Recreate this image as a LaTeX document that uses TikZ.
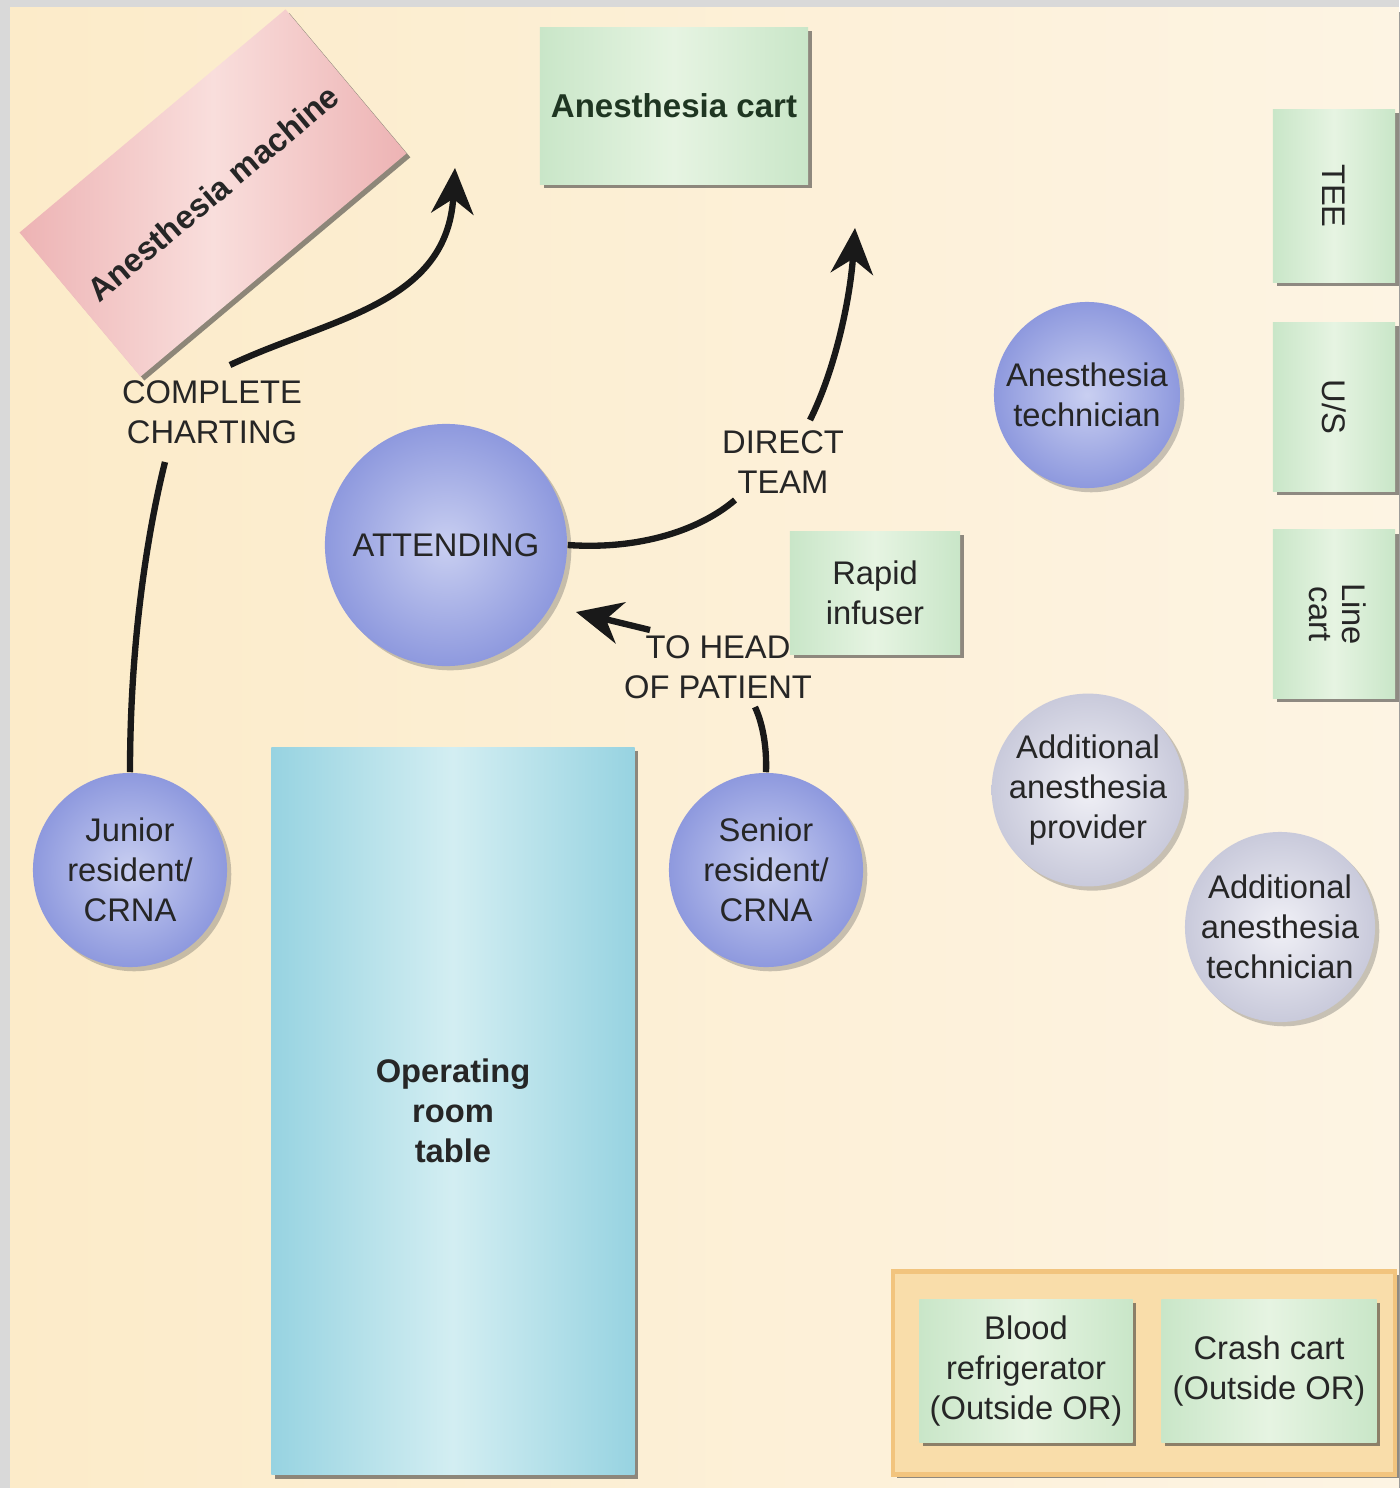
\documentclass[tikz,border=0pt]{standalone}
\usepackage{fontspec}
\setmainfont{Liberation Sans}
\usetikzlibrary{arrows.meta,shadows}
\definecolor{framegray}{HTML}{D9D9D9}
\definecolor{paperL}{HTML}{FCEBC9}
\definecolor{paperR}{HTML}{FDF4E3}
\definecolor{txt}{HTML}{262626}
\definecolor{cartgreen}{HTML}{1F3622}
\definecolor{greenOut}{HTML}{C9E6C8}
\definecolor{greenIn}{HTML}{E6F4E2}
\definecolor{blueOut}{HTML}{8E99DE}
\definecolor{blueIn}{HTML}{C9CFF1}
\definecolor{greyOut}{HTML}{C9CADB}
\definecolor{greyIn}{HTML}{F0F0F6}
\definecolor{pinkOut}{HTML}{EDB3B4}
\definecolor{pinkIn}{HTML}{F9DEDC}
\definecolor{tableSide}{HTML}{97D3E1}
\definecolor{tableMid}{HTML}{D3EEF2}
\definecolor{orangeEdge}{HTML}{F2C47E}
\definecolor{orangeFill}{HTML}{F9DDAA}
\begin{document}
\begin{tikzpicture}[x=0.01cm,y=-0.01cm,
  lbl/.style={font=\fontsize{9.3}{11.4}\selectfont, align=center, text=txt},
  shade/.style={drop shadow={shadow xshift=1.1pt, shadow yshift=-1.1pt, opacity=0.55, fill=black!80}},
  softshade/.style={drop shadow={shadow xshift=1.2pt, shadow yshift=-1.2pt, opacity=0.3, fill=black!70}},
  equip/.style={lbl, shade, inner sep=0pt, rectangle, left color=greenOut, right color=greenOut, middle color=greenIn},
  person/.style={lbl, softshade, circle, inner sep=0pt, shading=radial, inner color=blueIn, outer color=blueOut},
  extra/.style={person, inner color=greyIn, outer color=greyOut},
  flow/.style={line width=1.8pt, draw=black!90},
  flowarrow/.style={flow, -{Stealth[length=13pt,width=12pt]}}
]
% page frame and paper
\useasboundingbox (0,0) rectangle (1399,1488);
\fill[framegray] (0,0) rectangle (1399,1488);
\shade[left color=paperL, right color=paperR] (10,8) rectangle (1399,1488);

% equipment
\node[lbl, shade, rotate=40, minimum width=3.47cm, minimum height=1.88cm, inner sep=0pt,
      left color=pinkOut, right color=pinkOut, middle color=pinkIn, font=\fontsize{9.3}{11.4}\selectfont\bfseries]
      (machine) at (213,193) {Anesthesia machine};
\node[equip, minimum width=2.68cm, minimum height=1.57cm, text=cartgreen, font=\fontsize{9.4}{11.4}\selectfont\bfseries]
      (cart) at (674,106) {Anesthesia cart};
\node[equip, minimum width=1.22cm, minimum height=1.73cm] (tee) at (1334,196) {\rotatebox{-90}{TEE}};
\node[equip, minimum width=1.22cm, minimum height=1.69cm] (us) at (1334,407) {\rotatebox{-90}{U/S}};
\node[equip, minimum width=1.22cm, minimum height=1.68cm] (linecart) at (1334,614)
      {\rotatebox{-90}{\begin{tabular}{@{}c@{}}Line\\[-2pt]cart\end{tabular}}};
\node[equip, minimum width=1.70cm, minimum height=1.23cm] (rapid) at (875,593) {Rapid\\infuser};
\node[lbl, shade, rectangle, inner sep=0pt, minimum width=3.63cm, minimum height=7.27cm,
      left color=tableSide, right color=tableSide, middle color=tableMid,
      font=\fontsize{9.3}{11.4}\selectfont\bfseries] (table) at (453,1111) {Operating\\room\\table};

% items kept outside the room
\node[shade, rectangle, minimum width=5.02cm, minimum height=2.03cm, fill=orangeFill,
      draw=orangeEdge, line width=1.2pt] (outside) at (1144,1373) {};
\node[equip, minimum width=2.13cm, minimum height=1.43cm] (blood) at (1026,1371) {Blood\\refrigerator\\(Outside OR)};
\node[equip, minimum width=2.15cm, minimum height=1.43cm] (crash) at (1269,1371) {Crash cart\\(Outside OR)};

% people
\node[person, minimum size=2.42cm] (attending) at (446,545) {ATTENDING};
\node[person, minimum size=1.94cm] (junior) at (130,870) {Junior\\resident/\\CRNA};
\node[person, minimum size=1.94cm] (senior) at (766,870) {Senior\\resident/\\CRNA};
\node[person, minimum size=1.86cm] (tech) at (1087,395) {Anesthesia\\technician};
\node[extra, minimum size=1.90cm] (addprov) at (1088,790) {Additional\\anesthesia\\provider};
\node[extra, minimum size=1.90cm] (addtech) at (1280,927) {Additional\\anesthesia\\technician};

% task labels
\node[lbl] (charting) at (212,412) {COMPLETE\\CHARTING};
\node[lbl] (direct) at (783,462) {DIRECT\\TEAM};
\node[lbl] (tohead) at (718,667) {TO HEAD\\OF PATIENT};

\coordinate (chartIn) at (165,462);
\coordinate (chartOut) at (230,365);
\coordinate (machineTip) at (455,168);
\coordinate (directIn) at (735,500);
\coordinate (directOut) at (810,420);
\coordinate (cartTip) at (855,228);
\coordinate (headIn) at (755,707);
\coordinate (headOut) at (650,630);
\coordinate (attendTip) at (576,612);

% task flows
\draw[flow] (junior.north) .. controls (130,640) and (148,530) .. (chartIn);
\draw[flowarrow] (chartOut) .. controls (330,318) and (447,305) .. (machineTip);
\draw[flow] (attending.east) .. controls (640,550) and (700,530) .. (directIn);
\draw[flowarrow] (directOut) .. controls (835,370) and (850,300) .. (cartTip);
\draw[flow] (senior.north) .. controls (767,745) and (762,722) .. (headIn);
\draw[flowarrow] (headOut) -- (attendTip);
\end{tikzpicture}
\end{document}
